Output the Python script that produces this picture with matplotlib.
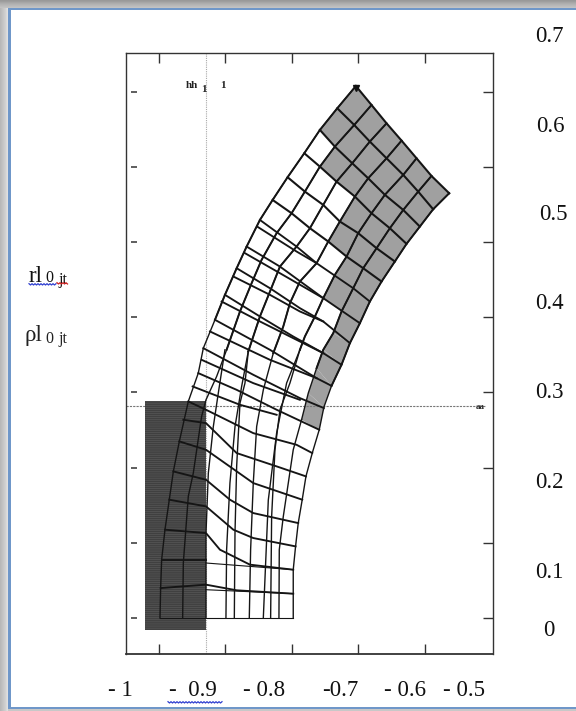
import numpy as np
import matplotlib
matplotlib.use("Agg")
import matplotlib.pyplot as plt
from matplotlib.patches import Rectangle, Polygon

plt.rcParams["hatch.linewidth"] = 0.35

W, H = 576, 711
SERIF = ["Liberation Serif", "DejaVu Serif"]

# ---- axis labels as printed around the scanned plot
x_tick_values = [-1.0, -0.9, -0.8, -0.7, -0.6]
y_tick_values = [0.0, 0.1, 0.2, 0.3, 0.4, 0.5, 0.6, 0.7]
x_labels = ["- 1", "-  0.9", "- 0.8", "-0.7", "- 0.6", "- 0.5"]
y_labels = ["0.7", "0.6", "0.5", "0.4", "0.3", "0.2", "0.1", "0"]

# ---- long mesh lines (bottom-to-top family), data units, top end first
s0_x = [-.7039,-.7319,-.7580,-.7815,-.8066,-.8291,-.8482,-.8682,-.8832,-.9008,-.9158,-.9333,-.9409,-.9559,-.9694,-.9784,-.9845,-.9910,-.9960,-.9975,-.9985]
s0_y = [.7074,.6778,.6490,.6180,.5861,.5559,.5293,.4939,.4651,.4297,.3965,.3588,.3256,.2879,.2348,.1949,.1573,.1174,.0775,.0398,.0]
s1_x = [-.6804,-.7064,-.7355,-.7580,-.7806,-.8006,-.8231,-.8457,-.8607,-.8782,-.8983,-.9133,-.9293,-.9359,-.9484,-.9559,-.9634,-.9644]
s1_y = [.6822,.6556,.6268,.6002,.5670,.5382,.5117,.4762,.4452,.4076,.3566,.3212,.2901,.2680,.1927,.1618,.0731,.0]
s2_x = [-.6578,-.6829,-.7094,-.7330,-.7530,-.7730,-.7931,-.8181,-.8331,-.8482,-.8657]
s2_y = [.6578,.6335,.6047,.5803,.5493,.5183,.4939,.4673,.4341,.4009,.3544]
s3_x = [-.6352,-.6578,-.6854,-.7054,-.7280,-.7455,-.7630,-.7881,-.8031,-.8131,-.8281]
s3_y = [.6348,.6113,.5847,.5604,.5272,.5006,.4718,.4474,.4186,.3876,.3522]
s4_x = [-.6127,-.6327,-.6603,-.6804,-.7004,-.7179,-.7355,-.7530,-.7655,-.7806,-.7881]
s4_y = [.6113,.5892,.5627,.5382,.5117,.4806,.4563,.4253,.4009,.3743,.3566]
s5_x = [-.5902,-.6102,-.6327,-.6528,-.6728,-.6929,-.7079,-.7255,-.7380,-.7530,-.7630,-.7755,-.7856]
s5_y = [.5878,.5670,.5426,.5183,.4917,.4651,.4385,.4076,.3787,.3566,.3322,.2990,.2636]
s6_x = [-.5636,-.5877,-.6077,-.6277,-.6453,-.6653,-.6829,-.6979,-.7129,-.7255,-.7405,-.7520,-.7590,-.7695,-.7790,-.7846,-.7906,-.7946,-.7981,-.7981,-.7981]
s6_y = [.5648,.5435,.5205,.4975,.4740,.4474,.4208,.3920,.3655,.3367,.3087,.2804,.2503,.2193,.1883,.1573,.1262,.0952,.0642,.0323,.0]

# lines that fan out towards the y = 0 edge, bottom-end first
fan_a_x = [-.9293,-.9293,-.9258,-.9183,-.9108,-.9008]
fan_a_y = [.0,.1129,.1927,.2545,.2990,.3566]
fan_b_x = [-.8993,-.8983,-.8933,-.8857,-.8757,-.8657]
fan_b_y = [.0,.0908,.1794,.2544,.3079,.3544]
fan_c_x = [-.8867,-.8857,-.8832,-.8782,-.8707,-.8657]
fan_c_y = [.0,.1129,.2016,.2857,.3123,.3544]
fan_d_x = [-.8642,-.8622,-.8582,-.8531,-.8431,-.8281]
fan_d_y = [.0,.0908,.1794,.2547,.3034,.3522]
fan_e_x = [-.8431,-.8356,-.8231,-.8081,-.7881]
fan_e_y = [.0,.1569,.2458,.3123,.3566]
fan_f_x = [-.8321,-.8306,-.8256,-.8181,-.8031,-.7881]
fan_f_y = [.0,.1347,.2237,.2769,.3123,.3566]
fan_g_x = [-.8196,-.8191,-.8131,-.8056,-.7981,-.7856]
fan_g_y = [.0,.0908,.1347,.1791,.2237,.2636]

# ---- cross mesh lines, left end first
c6a_x = [-.8482,-.7931,-.7630,-.7079,-.6829]; c6a_y = [.5293,.4939,.4718,.4385,.4208]
c6b_x = [-.8522,-.7931,-.7630];               c6b_y = [.5204,.4873,.4718]
c7a_x = [-.8682,-.8181,-.7530,-.6979];        c7a_y = [.4939,.4673,.4253,.3920]
c7b_x = [-.8707,-.8181,-.7530];               c7b_y = [.4851,.4585,.4253]
c8a_x = [-.8832,-.8331,-.7881,-.7530,-.7129]; c8a_y = [.4651,.4385,.4120,.3943,.3655]
c8b_x = [-.8882,-.8331,-.7881,-.7530];        c8b_y = [.4541,.4297,.4076,.3943]
c9a_x = [-.9008,-.8482,-.7981,-.7530,-.7255]; c9a_y = [.4297,.4009,.3743,.3522,.3367]
c9b_x = [-.9058,-.8482,-.7981,-.7530];        c9b_y = [.4208,.3943,.3721,.3522]
c10a_x = [-.9158,-.8331,-.7630,-.7405];       c10a_y = [.3965,.3566,.3189,.3087]
c10b_x = [-.9233,-.8331,-.7630];              c10b_y = [.3810,.3433,.3189]
c11a_x = [-.9333,-.8582,-.7881,-.7520];       c11a_y = [.3588,.3234,.2924,.2791]
c11b_x = [-.9359,-.8582,-.7881];              c11b_y = [.3433,.3123,.2901]
c12a_x = [-.9409,-.8832,-.8231,-.7590];       c12a_y = [.3256,.3034,.2769,.2503]
c12b_x = [-.9494,-.8782,-.8231];              c12b_y = [.3079,.2835,.2702]
c13_x = [-.9559,-.9293,-.8582,-.7931,-.7695]; c13_y = [.2879,.2769,.2458,.2303,.2193]
c14_x = [-.9634,-.9293,-.8832,-.8231,-.7790]; c14_y = [.2636,.2591,.2193,.2016,.1883]
c15_x = [-.9694,-.9293,-.8582,-.7846];        c15_y = [.2348,.2237,.1794,.1573]
c16_x = [-.9784,-.9293,-.8933,-.8582,-.7906]; c16_y = [.1949,.1838,.1573,.1395,.1262]
c17_x = [-.9845,-.9293,-.8882,-.8582,-.7946]; c17_y = [.1573,.1484,.1174,.1063,.0952]
c18_x = [-.9910,-.9293,-.9083,-.8632,-.7981]; c18_y = [.1174,.1129,.0908,.0709,.0642]
c18b_x = [-.9293,-.7981];                     c18b_y = [.0731,.0642]
c19a_x = [-.9960,-.9293];                     c19a_y = [.0775,.0775]
c19_x = [-.9975,-.9293,-.8832,-.7981];        c19_y = [.0398,.0443,.0368,.0323]
c19b_x = [-.9293,-.7981];                     c19b_y = [.0376,.0323]
c20_x = [-.9985,-.7981];                      c20_y = [.0,.0]

# shaded cells per column of the mesh, counted from the top edge
shaded_cells = [2, 3, 3, 5, 7, 12]

# dark block and the two reference lines
block_x = [-1.0210, -.9293]
block_y = [-.0155, .2892]
ref_x = -.9293
ref_y = .2822

long_lines = [(s0_x, s0_y), (s1_x, s1_y), (s2_x, s2_y), (s3_x, s3_y),
              (s4_x, s4_y), (s5_x, s5_y), (s6_x, s6_y)]
fans = [(fan_a_x, fan_a_y), (fan_b_x, fan_b_y), (fan_c_x, fan_c_y), (fan_d_x, fan_d_y),
        (fan_e_x, fan_e_y), (fan_f_x, fan_f_y), (fan_g_x, fan_g_y)]
cross_heavy = [(c6a_x, c6a_y), (c6b_x, c6b_y), (c7a_x, c7a_y), (c7b_x, c7b_y),
               (c8a_x, c8a_y), (c8b_x, c8b_y), (c9a_x, c9a_y), (c9b_x, c9b_y),
               (c10a_x, c10a_y), (c10b_x, c10b_y), (c11a_x, c11a_y), (c11b_x, c11b_y),
               (c12a_x, c12a_y), (c12b_x, c12b_y), (c13_x, c13_y), (c14_x, c14_y),
               (c15_x, c15_y), (c16_x, c16_y), (c17_x, c17_y), (c18_x, c18_y),
               (c19a_x, c19a_y), (c19_x, c19_y)]
cross_thin = [(c18b_x, c18b_y), (c19b_x, c19b_y), (c20_x, c20_y)]

fig = plt.figure(figsize=(W / 100, H / 100), dpi=100, facecolor="white")

def px(x, y):
    return x / W, 1 - y / H

# ---- window chrome of the screenshot
chrome = fig.add_axes([0, 0, 1, 1], zorder=-5)
chrome.set_xlim(0, W); chrome.set_ylim(H, 0); chrome.axis("off")
for i, (top, side) in enumerate(zip([.60, .62, .65, .68, .70, .72, .74, .76],
                                    [.72, .74, .76, .78, .80, .82, .85, .88])):
    chrome.add_patch(Rectangle((i, 8), 1, H - 8, fc=str(side), ec="none"))
    chrome.add_patch(Rectangle((0, i), W, 1, fc=str(top), ec="none"))
chrome.add_patch(Rectangle((8, 8), W, 2.2, fc="#6f97c9", ec="none"))
chrome.add_patch(Rectangle((8.4, 8), 2.2, H, fc="#6f97c9", ec="none"))
chrome.add_patch(Rectangle((8, 707), W, 2, fc="#6f97c9", ec="none"))
chrome.add_patch(Rectangle((8, 709), W, 2, fc="#c8c8c8", ec="none"))

# ---- plot box
ax = fig.add_axes([126 / W, 1 - 654 / H, (493 - 126) / W, (654 - 53) / H])
ax.set_xlim(-1.0496, -0.4977)
ax.set_ylim(-0.0479, 0.7513)
ax.patch.set_alpha(0)
for s in ax.spines.values():
    s.set_color("#333333"); s.set_linewidth(1.0)
ax.spines["bottom"].set_linewidth(1.3)
ax.set_xticks(x_tick_values); ax.set_yticks(y_tick_values)
ax.set_xticklabels([]); ax.set_yticklabels([])
ax.tick_params(axis="x", which="both", direction="in", top=True, bottom=True, length=7, width=1.0, color="#333333")
ax.tick_params(axis="y", which="both", direction="in", left=False, right=True, length=7, width=1.0, color="#333333")
ax.hlines(y_tick_values, -1.0420, -1.0330, color="#333333", lw=1.1)

# shaded cells
for j, n in enumerate(shaded_cells):
    xa, ya = long_lines[j]; xb, yb = long_lines[j + 1]
    for k in range(n):
        ax.add_patch(Polygon([(xa[k], ya[k]), (xb[k], yb[k]), (xb[k + 1], yb[k + 1]), (xa[k + 1], ya[k + 1])],
                             fc="#a0a0a0", ec="none", zorder=1))

# dark block with the scan's horizontal banding
ax.add_patch(Rectangle((block_x[0], block_y[0]), block_x[1] - block_x[0], block_y[1] - block_y[0],
                       fc="#404040", ec="#626262", lw=0, hatch="--------", zorder=1.5))

# reference lines
ax.axvline(ref_x, color="#a8a8a8", lw=0.8, ls=(0, (1, 1)), zorder=1.2)
ax.plot([-1.0496, -0.5077], [ref_y, ref_y], color="#777777", lw=0.8, ls=(0, (2, 1)), zorder=1.2)

# mesh
UPPER = 7
for xs, ys in long_lines:
    ax.plot(xs, ys, color="#151515", lw=1.0, zorder=3, solid_joinstyle="round")
    ax.plot(xs[:UPPER + 4], ys[:UPPER + 4], color="#151515", lw=1.4, zorder=3, solid_joinstyle="round")
for k in range(6):
    ax.plot([l[0][k] for l in long_lines], [l[1][k] for l in long_lines],
            color="#151515", lw=1.5, zorder=3, solid_joinstyle="round")
for xs, ys in fans:
    ax.plot(xs, ys, color="#151515", lw=1.0, zorder=3)
for xs, ys in cross_heavy:
    ax.plot(xs, ys, color="#151515", lw=1.35, zorder=3, solid_joinstyle="round")
for xs, ys in cross_thin:
    ax.plot(xs, ys, color="#151515", lw=0.8, zorder=3)
ax.plot([s0_x[0]], [s0_y[0] - .002], marker="v", ms=4, color="#111111", zorder=4)

# small labels inside the plot
t = dict(family=SERIF, color="#222222", ha="left", va="center", fontweight="bold")
fig.text(*px(186, 85), "hh", fontsize=8, **t)
fig.text(*px(201, 90), "1", fontsize=8, **t)
fig.text(*px(220, 85), "1", fontsize=8, **t)
fig.text(*px(476, 407), "aa", fontsize=6.5, **t)

# printed tick labels
lab = dict(family=SERIF, color="#111111", fontsize=16.5, ha="center", va="center")
for s, (x, y) in zip(y_labels, [(549, 37), (550, 126), (553, 215), (549, 304),
                                (549, 393), (549, 483), (549, 572), (549, 631)]):
    fig.text(*px(x, y), s, **lab)
for s, (x, y) in zip(x_labels, [(120, 691), (193, 691), (264, 691),
                                (340, 691), (405, 691), (464, 691)]):
    fig.text(*px(x, y), s, **lab)

# left annotations
fig.text(*px(29, 277), "rl", family=SERIF, fontsize=16.5, color="#111111", ha="left", va="center")
fig.text(*px(45, 278), "0", family=SERIF, fontsize=11.5, color="#111111", ha="left", va="center")
fig.text(*px(58, 280), "jt", family=SERIF, fontsize=11.5, color="#111111", ha="left", va="center")
fig.text(*px(24, 336), "\u03c1l", family=SERIF, fontsize=16.5, color="#222222", ha="left", va="center")
fig.text(*px(45, 339), "0", family=SERIF, fontsize=11.5, color="#222222", ha="left", va="center")
fig.text(*px(58, 339), "jt", family=SERIF, fontsize=11.5, color="#222222", ha="left", va="center")

# spell-check squiggles from the word processor
def squiggle(x0, x1, y, color):
    n = int((x1 - x0) / 1.5) + 1
    xs = [x0 + i * 1.5 for i in range(n)]
    ys = [y + (1 if i % 2 else -0.3) for i in range(n)]
    chrome.plot(xs, ys, color=color, lw=0.9)

squiggle(29, 56, 284, "#2f3fd0")
squiggle(57, 68, 283, "#d02020")
squiggle(168, 222, 702, "#2f3fd0")
chrome.set_zorder(5)
chrome.patch.set_alpha(0)

fig.savefig("out.png", dpi=100, facecolor="white")
